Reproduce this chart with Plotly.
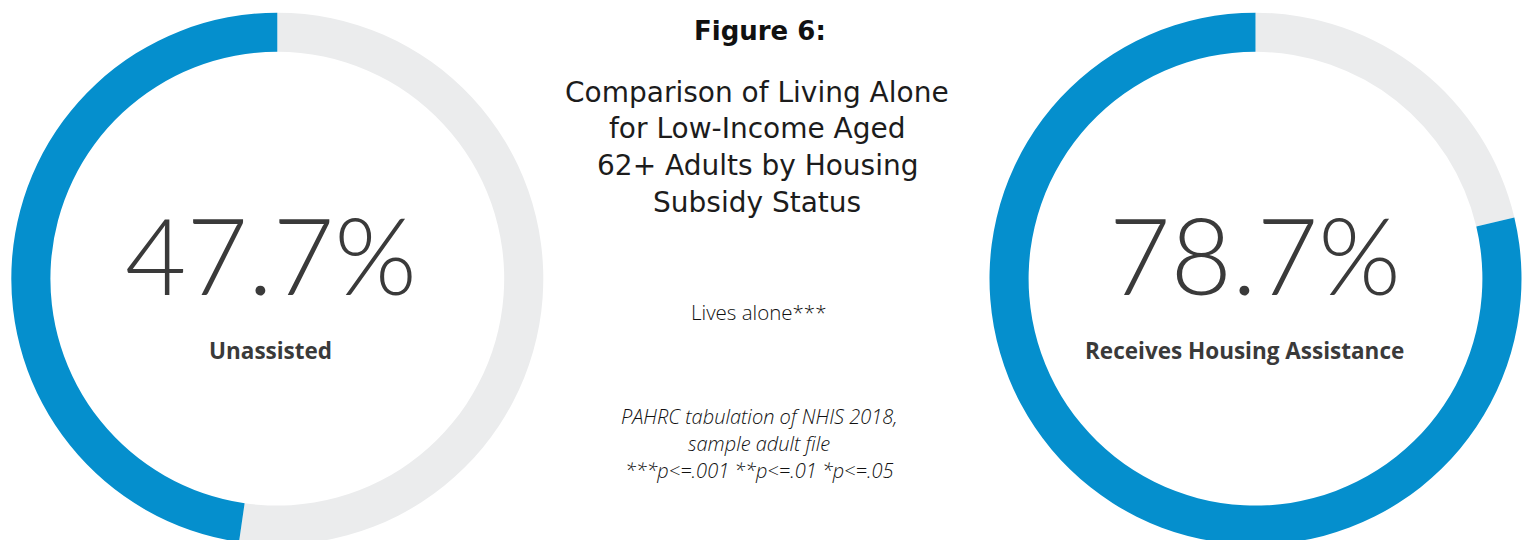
import plotly.graph_objects as go

# ---- data ----
groups = ["Unassisted", "Receives Housing Assistance"]
lives_alone_pct = [47.7, 78.7]
slice_labels = ["Other", "Lives alone"]
number_labels = ["47.7%", "78.7%"]
title_lines = ["Comparison of Living Alone", "for Low-Income Aged",
               "62+ Adults by Housing", "Subsidy Status"]
subtitle = "Lives alone***"
source_lines = ["PAHRC tabulation of NHIS 2018,", "sample adult file",
                "***p<=.001 **p<=.01 *p<=.05"]

BLUE = "#058fcd"
GREY = "#ebeced"
DARK = "#3a3a3a"
BLACK = "#111111"

# page offset (body margin) compensation
OFF = 8
W, H = 1531 - OFF, 540


def px_x(x):
    return (x - OFF) / W


def px_y(y):
    return 1 - (y - OFF) / H


fig = go.Figure()

centers_x = [277.3, 1255.5]
CY = 278.7
R = 266
for cx, pct in zip(centers_x, lives_alone_pct):
    # remainder first, then the "lives alone" share, so the blue arc
    # runs counterclockwise from 12 o'clock
    fig.add_trace(go.Pie(
        values=[100 - pct, pct],
        labels=slice_labels,
        sort=False,
        direction="counterclockwise",
        rotation=0,
        hole=0.853,
        marker=dict(colors=[GREY, BLUE], line=dict(width=0)),
        textinfo="none",
        hoverinfo="skip",
        showlegend=False,
        domain=dict(x=[px_x(cx - R), px_x(cx + R)],
                    y=[px_y(CY + R), px_y(CY - R)]),
    ))

# big numbers and group labels
num_x = [271, 1255]
lab_x = [270.5, 1244]
for nx, lx, num, grp in zip(num_x, lab_x, number_labels, groups):
    fig.add_annotation(x=px_x(nx), y=px_y(254), xref="paper", yref="paper",
                       text=num, showarrow=False, xanchor="center", yanchor="middle",
                       font=dict(family="Lato", size=106, color=DARK, weight=300))
    fig.add_annotation(x=px_x(lx), y=px_y(350), xref="paper", yref="paper",
                       text="<b>" + grp + "</b>", showarrow=False,
                       xanchor="center", yanchor="middle",
                       font=dict(family="Open Sans", size=22.5, color=DARK))

# title block
fig.add_annotation(x=px_x(759.5), y=px_y(31), xref="paper", yref="paper",
                   text="<b>Figure 6:</b>", showarrow=False, xanchor="center", yanchor="middle",
                   font=dict(family="DejaVu Sans", size=26, color=BLACK))
for i, line in enumerate(title_lines):
    fig.add_annotation(x=px_x(757), y=px_y(92 + 36.8 * i), xref="paper", yref="paper",
                       text=line, showarrow=False, xanchor="center", yanchor="middle",
                       font=dict(family="DejaVu Sans", size=28, color="#1c1c1c"))

fig.add_annotation(x=px_x(758.5), y=px_y(312), xref="paper", yref="paper",
                   text=subtitle, showarrow=False, xanchor="center", yanchor="middle",
                   font=dict(family="Open Sans", size=20.5, color=BLACK, weight=300))
for i, line in enumerate(source_lines):
    fig.add_annotation(x=px_x(759), y=px_y(416 + 27 * i), xref="paper", yref="paper",
                       text="<i>" + line + "</i>", showarrow=False,
                       xanchor="center", yanchor="middle",
                       font=dict(family="Open Sans", size=20, color=BLACK, weight=300))

fig.update_layout(
    width=W, height=H,
    margin=dict(l=0, r=0, t=0, b=0),
    paper_bgcolor="white",
    plot_bgcolor="white",
)

fig.write_html("out.html")
